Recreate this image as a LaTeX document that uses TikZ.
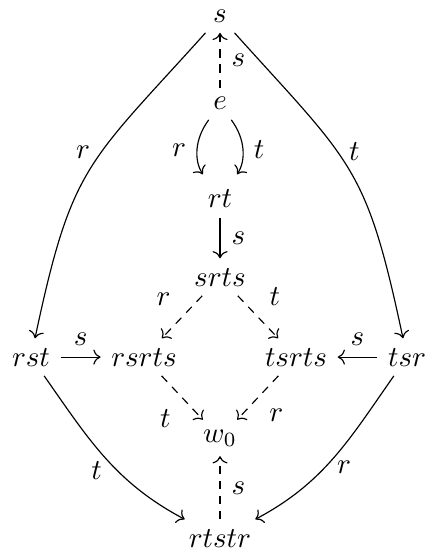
\documentclass[tikz,border=0pt]{standalone}
\usetikzlibrary{arrows.meta}
\begin{document}
\begin{tikzpicture}[x=0.345pt,y=0.345pt,
  >={Computer Modern Rightarrow},
  obj/.style={anchor=base,inner xsep=3.5pt,inner ysep=3.2pt},
  lbl/.style={inner sep=3.8pt},
  nlbl/.style={inner sep=1pt},
  arr/.style={->,line width=0.4pt},
  darr/.style={arr,dash pattern=on 2.8pt off 2.4pt}]
\useasboundingbox (0,0) rectangle (425,-550);
\node[obj] (s) at (220,-23) {$s$};
\node[obj] (e) at (220,-110) {$e$};
\node[obj] (rt) at (220,-208) {$rt$};
\node[obj] (srts) at (220,-286) {$srts$};
\node[obj] (rst) at (31,-366) {$rst$};
\node[obj] (rsrts) at (144,-366) {$rsrts$};
\node[obj] (tsrts) at (296,-366) {$tsrts$};
\node[obj] (tsr) at (407,-366) {$tsr$};
\node[obj] (w0) at (220,-442) {$w_0$};
\node[obj] (rtstr) at (220,-547) {$rtstr$};

\draw[darr] (e) -- node[lbl,right]{$s$} (s);
\draw[arr,shorten >=2.5pt] (e) to[bend right=35] node[lbl,left]{$r$} (rt);
\draw[arr,shorten >=2.5pt] (e) to[bend left=35] node[lbl,right]{$t$} (rt);
\draw[arr] (rt) -- node[lbl,right]{$s$} (srts);
\draw[darr] (srts) -- node[lbl,above left]{$r$} (rsrts);
\draw[darr] (srts) -- node[lbl,above right]{$t$} (tsrts);
\draw[arr] (rst) -- node[lbl,above]{$s$} (rsrts);
\draw[arr] (tsr) -- node[lbl,above]{$s$} (tsrts);
\draw[darr] (rsrts) -- node[lbl,below left]{$t$} (w0);
\draw[darr] (tsrts) -- node[lbl,below right]{$r$} (w0);
\draw[darr] (rtstr) -- node[lbl,right]{$s$} (w0);
\draw[arr] (s) to[out=228,in=78,looseness=1.3] node[lbl,pos=0.42,left]{$r$} (rst);
\draw[arr] (s) to[out=-48,in=102,looseness=1.3] node[lbl,pos=0.42,right]{$t$} (tsr);
\draw[arr] (rst) to[out=-55,in=152] node[nlbl,pos=0.5,below left]{$t$} (rtstr);
\draw[arr] (tsr) to[out=235,in=28] node[nlbl,pos=0.5,below right]{$r$} (rtstr);
\end{tikzpicture}
\end{document}
